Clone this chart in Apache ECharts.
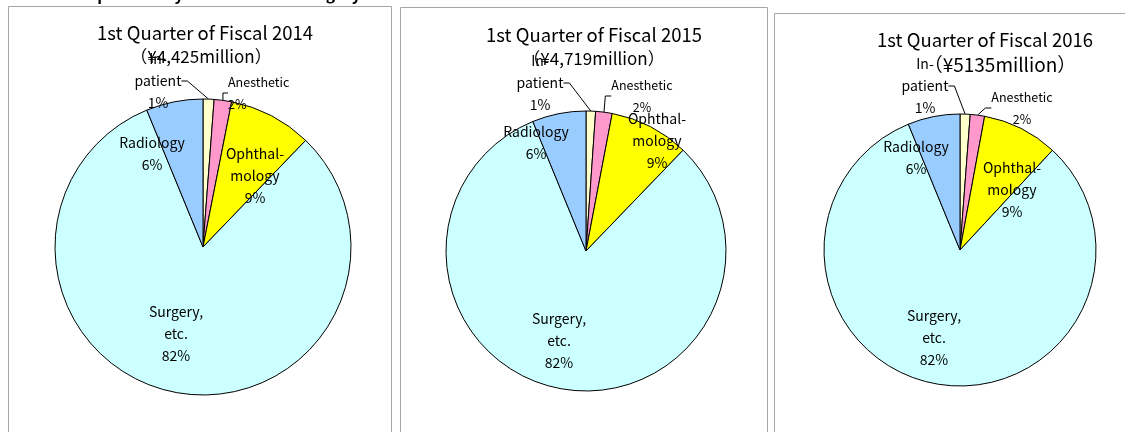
<!DOCTYPE html>
<html>
<head>
<meta charset="utf-8">
<script src="https://cdn.jsdelivr.net/npm/echarts@6/dist/echarts.min.js"></script>
<style>
  html, body { margin: 0; padding: 0; background: #fff; }
  #chart { width: 1125px; height: 432px; }
</style>
</head>
<body>
<div id="chart"></div>
<script>
// data
const categories = ['In-\npatient', 'Anesthetic', 'Ophthal-\nmology', 'Surgery,\netc.', 'Radiology'];
const periods = ['1st Quarter of Fiscal 2014', '1st Quarter of Fiscal 2015', '1st Quarter of Fiscal 2016'];
const totals = ['（¥4,425million）', '（¥4,719million）', '（¥5135million）'];
const sales2014 = [1.2, 1.9, 9.1, 81.6, 6.2];
const sales2015 = [1.1, 1.9, 9.2, 81.6, 6.2];
const sales2016 = [1.2, 1.7, 9.0, 81.9, 6.2];
const salesByYear = [sales2014, sales2015, sales2016];
const colors = ['#FFFFCC', '#FF99CC', '#FFFF00', '#CCFFFF', '#99CCFF'];

const font = '"Noto Sans CJK JP", "Noto Sans", sans-serif';

// layout of each panel: frame, pie, titles and label offsets from the pie centre
const panels = [
  { frame: [8.5, 6.5, 383], center: [203, 247], r: 148, title: [205, 35], sub: [201, 59], subSize: 17,
    labels: [[-45, -166], [25, -154, 'left'], [52, -71], [-27, 87], [-51, -93]] },
  { frame: [400.5, 7.5, 367], center: [586, 251], r: 140, title: [594, 37], sub: [594, 61], subSize: 17,
    labels: [[-46, -168], [56, -155], [71, -110], [-27, 90], [-50, -108]] },
  { frame: [774.5, 13.5, 360], center: [960, 250], r: 136, title: [985, 42], sub: [1000, 66], subSize: 19,
    labels: [[-35, -164], [62, -142], [52, -60], [-26, 88], [-44, -92]] }
];

const chart = echarts.init(document.getElementById('chart'));

const titles = [];
panels.forEach(function (p, i) {
  titles.push({
    text: periods[i], left: p.title[0], top: p.title[1] - 11, textAlign: 'center', padding: 0,
    textStyle: { fontSize: 18.5, fontWeight: 'normal', color: '#000', fontFamily: font }
  });
  titles.push({
    text: totals[i], left: p.sub[0], top: p.sub[1] - 11, textAlign: 'center', padding: 0,
    textStyle: { fontSize: p.subSize, fontWeight: 'normal', color: '#000', fontFamily: font }
  });
});

const series = panels.map(function (p, i) {
  return {
    type: 'pie',
    center: p.center,
    radius: p.r,
    startAngle: 90,
    clockwise: true,
    percentPrecision: 0,
    avoidLabelOverlap: false,
    silent: true,
    itemStyle: { borderColor: '#000', borderWidth: 1 },
    label: {
      show: true,
      position: 'outside',
      formatter: '{b}\n{d}%',
      color: '#000',
      fontFamily: font,
      fontSize: 14,
      lineHeight: 22,
      align: 'center'
    },
    labelLine: { show: false, lineStyle: { color: '#000', width: 1 } },
    labelLayout: function (params) {
      const o = panels[params.seriesIndex].labels[params.dataIndex];
      const c = panels[params.seriesIndex].center;
      return { x: c[0] + o[0], y: c[1] + o[1], align: o[2] || 'center', verticalAlign: 'middle' };
    },
    data: categories.map(function (name, k) {
      const item = { name: name, value: salesByYear[i][k], itemStyle: { color: colors[k] } };
      if (k < 2) {
        item.labelLine = { show: true, length: 12, length2: 6 };
      }
      if (k === 1) {
        item.label = { fontSize: 12.5 };
      }
      return item;
    })
  };
});

const graphic = panels.map(function (p) {
  return {
    type: 'rect', silent: true, z: -1,
    shape: { x: p.frame[0], y: p.frame[1], width: p.frame[2], height: 460 },
    style: { fill: 'none', stroke: '#a6a6a6', lineWidth: 1 }
  };
});
// page heading, cut off by the top edge of the picture
graphic.push({
  type: 'text', silent: true,
  style: {
    text: 'Composition by Sales of Each Category', x: 62, y: 2,
    verticalAlign: 'bottom', font: 'bold 15.7px ' + font, fill: '#000'
  }
});

chart.setOption({
  animation: false,
  backgroundColor: '#fff',
  title: titles,
  graphic: graphic,
  series: series
});
</script>
</body>
</html>
